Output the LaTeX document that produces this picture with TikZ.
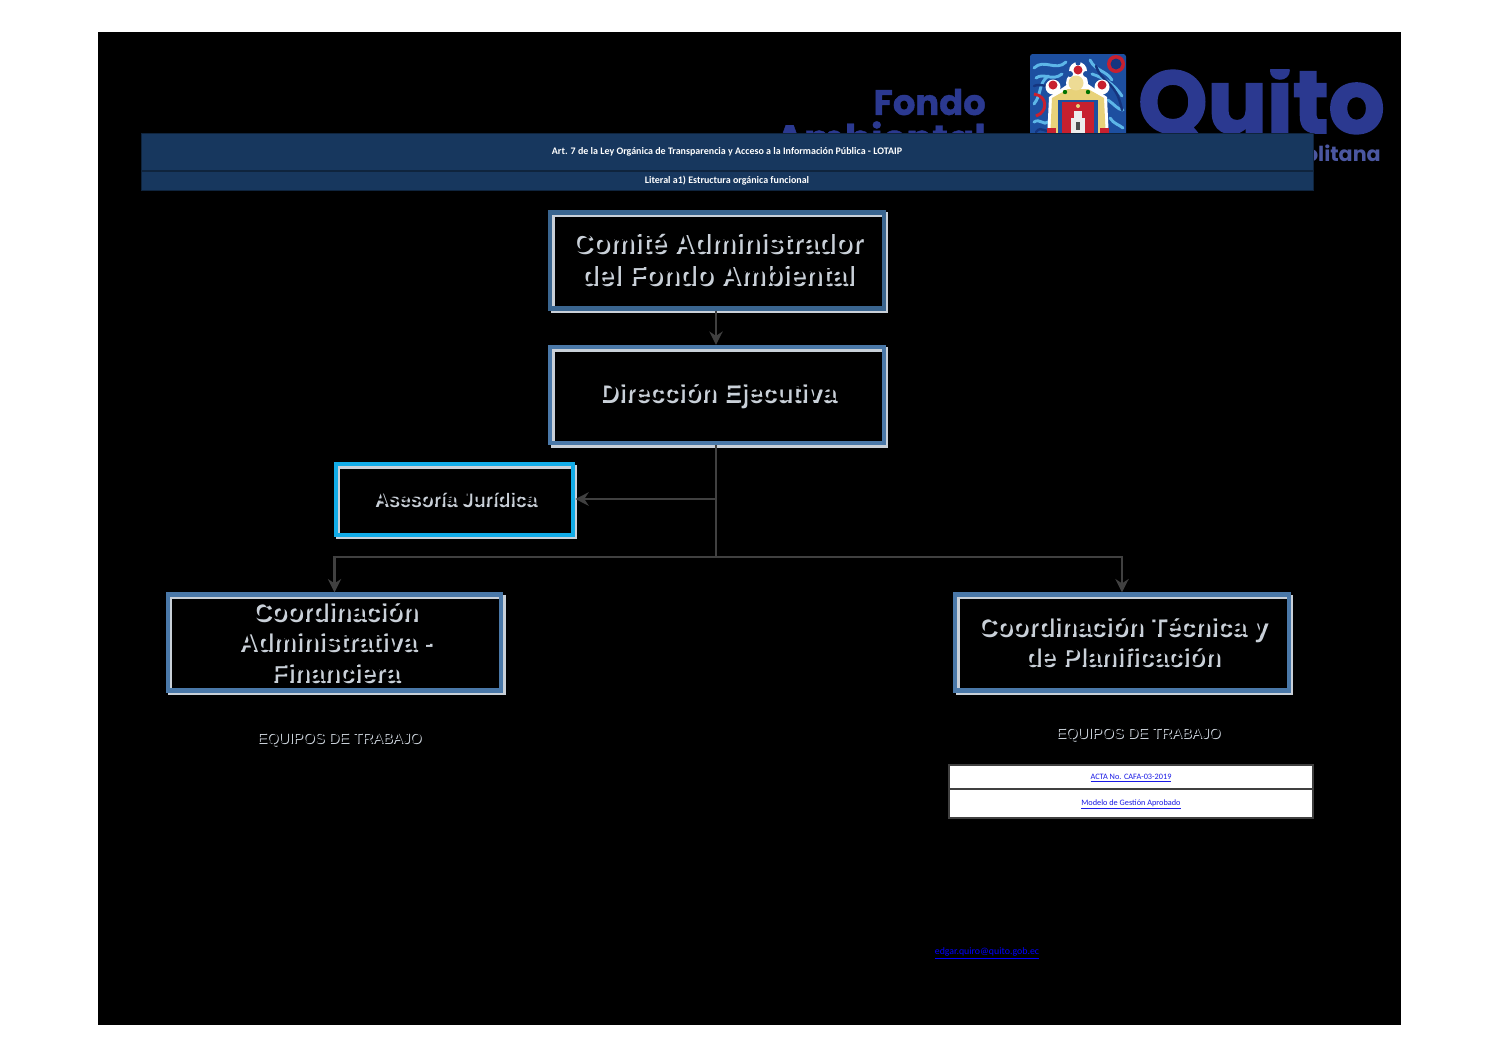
\documentclass[tikz,border=0pt]{standalone}
\usepackage{fontspec}
\setmainfont{Liberation Sans}
\newfontfamily\carl{Carlito}
\newfontfamily\pop{Poppins}
\newfontfamily\popheavy[FakeBold=2.2]{Poppins Bold}
\newfontfamily\popmid[FakeBold=1]{Poppins Bold}
\usetikzlibrary{arrows.meta}
\definecolor{barblue}{HTML}{17375E}
\definecolor{boxblue}{HTML}{4A78A8}
\definecolor{boxdark}{HTML}{3A658F}
\definecolor{boxshade}{HTML}{C9D0D8}
\definecolor{cyanbox}{HTML}{12ACE8}
\definecolor{conn}{HTML}{404040}
\definecolor{logoblue}{HTML}{2B3990}
\definecolor{linkblue}{HTML}{1A1AE6}
\definecolor{crestbg}{HTML}{1D4FA0}
\definecolor{crestwave}{HTML}{5DB6E8}
\definecolor{crestdeep}{HTML}{15357F}
\definecolor{crestred}{HTML}{C8202F}
\definecolor{crestgold}{HTML}{E8D27A}
\tikzset{
  x=0.75pt,y=-0.75pt,
  orgbox/.style={draw=boxblue,line width=3.2pt,minimum width=250pt,minimum height=72pt,inner sep=0pt,align=center,font=\fontsize{19.2}{23}\selectfont\bfseries,text=black},
  orgshade/.style={orgbox,draw=boxshade,text=boxshade},
  bigtext/.style={font=\fontsize{20.7}{24}\selectfont\bfseries},
  smallbox/.style={minimum width=178pt,minimum height=53pt,font=\fontsize{14.6}{18}\selectfont\bfseries},
  wire/.style={draw=conn,line width=2pt},
  thinwire/.style={draw=conn,line width=1.6pt},
  tip/.style={-{Stealth[length=10pt,width=10pt]}},
  barcell/.style={fill=barblue,draw=barblue!65!black,line width=.5pt,minimum width=879pt,inner sep=0pt,text=white,font=\carl\bfseries\fontsize{7.5}{9}\selectfont},
  linkcell/.style={fill=white,draw=conn,line width=.8pt,minimum width=273pt,inner sep=0pt,text=linkblue,font=\carl\fontsize{6.2}{8}\selectfont},
  teamlabel/.style={font=\fontsize{11.1}{13}\selectfont},
  logotext/.style={text=logoblue,inner sep=0pt},
  wave/.style={draw=crestwave,line width=2.2pt,line cap=round},
  deepwave/.style={draw=crestdeep,line width=1.8pt,line cap=round},
}
\begin{document}
\begin{tikzpicture}
\useasboundingbox (0,0) rectangle (1497,1058);
\fill[white] (0,0) rectangle (1497,1058);
\fill[black] (98,32) rectangle (1401,1025);
% logo
\node[logotext,anchor=east,font=\popmid\fontsize{26.5}{30}\selectfont] (fondo) at (986,102) {Fondo};
\node[logotext,anchor=east,font=\popmid\fontsize{29}{34}\selectfont] (amb) at (986,137) {Ambiental};
\begin{scope}
\clip (1130,69) rectangle (1395,140);
\node[logotext,anchor=west,font=\popheavy\fontsize{66}{80}\selectfont] (quito) at (1138,103) {Quito};
\end{scope}
\node[logotext,anchor=east,font=\pop\bfseries\fontsize{15.5}{18}\selectfont,text=logoblue!85!white] (metro) at (1381,153) {olitana};
% crest
\fill[rounded corners=2pt,fill=crestbg] (1030,54) rectangle (1126,140);
\begin{scope}
\clip (1030,54) rectangle (1126,140);
\draw[wave] (1034,68) .. controls (1044,58) and (1056,72) .. (1066,62);
\draw[wave] (1036,78) .. controls (1044,72) and (1052,82) .. (1062,74);
\draw[wave] (1034,104) .. controls (1042,94) and (1038,84) .. (1048,76);
\draw[wave] (1090,60) .. controls (1096,72) and (1106,70) .. (1112,80);
\draw[wave] (1092,74) .. controls (1104,78) and (1114,84) .. (1122,96);
\draw[wave] (1108,100) .. controls (1114,104) and (1118,110) .. (1123,110);
\draw[wave] (1034,122) .. controls (1040,118) and (1044,126) .. (1048,122);
\draw[wave] (1110,118) .. controls (1114,124) and (1118,124) .. (1123,128);
\draw[deepwave] (1034,86) .. controls (1042,82) and (1052,92) .. (1056,80);
\draw[deepwave] (1096,66) .. controls (1102,84) and (1116,80) .. (1122,110);
\draw[deepwave] (1036,132) .. controls (1042,124) and (1046,136) .. (1050,128);
\draw[crestred,line width=2.2pt] (1034,94) .. controls (1048,96) and (1048,112) .. (1036,116);
\fill[crestred] (1116,64) circle (9);
\fill[crestdeep] (1116,64) circle (5.5);
% outline and crown
\fill[white] (1078,71) circle (9);
\fill[white] (1077,83) circle (11);
\fill[white] (1053,87) circle (7.5);
\fill[white] (1102,87) circle (7.5);
\fill[white] (1049,97) -- (1068,84) -- (1088,84) -- (1107,97) -- (1109,140) -- (1047,140) -- cycle;
\fill[crestgold] (1052,98) -- (1068,89) -- (1088,89) -- (1104,98) -- (1106,140) -- (1050,140) -- cycle;
\fill[crestbg] (1078,63) circle (2.5);
\fill[crestred] (1078,70) circle (4.5);
\fill[crestbg] (1070,74) circle (3);
\fill[crestbg] (1086,74) circle (3);
\fill[crestred] (1053,85) circle (4.5);
\fill[crestred] (1102,85) circle (4.5);
\fill[crestgold!80!white] (1076,83) circle (7.5);
\fill[green!45!black] (1065,92) circle (2.2);
\fill[green!45!black] (1088,92) circle (2.2);
\fill[crestbg] (1058,100) rectangle (1098,140);
\fill[crestred] (1062,102) rectangle (1094,140);
\fill[white!85!gray] (1071,118) rectangle (1085,140);
\fill[white!85!gray] (1074,111) rectangle (1082,118);
\fill[black!70] (1076,122) rectangle (1080,130);
\fill[crestgold] (1078,106) circle (2);
\fill[crestred] (1047,128) rectangle (1056,140);
\fill[crestred] (1100,128) rectangle (1109,140);
\end{scope}
% header bars
\node[barcell,minimum height=27.5pt] (art) at (727,151.5) {Art. 7 de la Ley Orgánica de Transparencia y Acceso a la Información Pública - LOTAIP};
\node[barcell,minimum height=14pt] (lit) at (727,180.5) {Literal a1) Estructura orgánica funcional};
% shadows of boxes and text
\node[orgshade,bigtext,text depth=3pt] at (719.5,262.5) {Comité Administrador\\del Fondo Ambiental};
\node[orgshade,text depth=5.5pt] at (719.5,397.5) {Dirección Ejecutiva};
\node[orgshade,smallbox,text depth=3pt] at (456.5,502) {Asesoría Jurídica};
\node[orgshade,text depth=2.2pt] at (337,645) {Coordinación\\Administrativa -\\Financiera};
\node[orgshade,text depth=3pt] at (1124.5,645) {Coordinación Técnica y\\de Planificación};
% boxes
\node[orgbox,bigtext,text depth=3pt,draw=boxdark] (comite) at (717,260.5) {Comité Administrador\\del Fondo Ambiental};
\node[orgbox,text depth=5.5pt] (dir) at (717,395) {Dirección Ejecutiva};
\node[orgbox,smallbox,text depth=3pt,draw=cyanbox] (ases) at (454.5,499.5) {Asesoría Jurídica};
\node[orgbox,text depth=2.2pt] (cadm) at (334.5,642.5) {Coordinación\\Administrativa -\\Financiera};
\node[orgbox,text depth=3pt] (ctec) at (1122,642.5) {Coordinación Técnica y\\de Planificación};
% connectors
\coordinate (jlegal) at (716,499);
\coordinate (jmain) at (716,557);
\draw[wire,tip] (comite.south -| jlegal) -- (dir.north -| jlegal);
\draw[wire] (dir.south -| jlegal) -- (jmain);
\draw[thinwire,tip] (jlegal) -- (ases.east |- jlegal);
\draw[thinwire,tip] (jmain) -| (cadm.north);
\draw[thinwire,tip] (jmain) -| (ctec.north);
% team labels
\node[teamlabel,text=boxshade] at (340.5,740.5) {EQUIPOS DE TRABAJO};
\node[teamlabel,text=black] (eq1) at (339.5,739.5) {EQUIPOS DE TRABAJO};
\node[teamlabel,text=boxshade] at (1139.5,735.5) {EQUIPOS DE TRABAJO};
\node[teamlabel,text=black] (eq2) at (1138.5,734.5) {EQUIPOS DE TRABAJO};
% links
\node[linkcell,minimum height=18pt,text height=6pt,text depth=2.2pt] (acta) at (1131,777) {\underline{ACTA No. CAFA-03-2019}};
\node[linkcell,minimum height=21.75pt,text height=6pt,text depth=3pt] (modelo) at (1131,803.5) {\underline{Modelo de Gestión Aprobado}};
\node[text=blue,inner sep=0pt,font=\carl\fontsize{7.4}{9}\selectfont] (mail) at (987,953) {\underline{edgar.quiro@quito.gob.ec}};
\end{tikzpicture}
\end{document}
